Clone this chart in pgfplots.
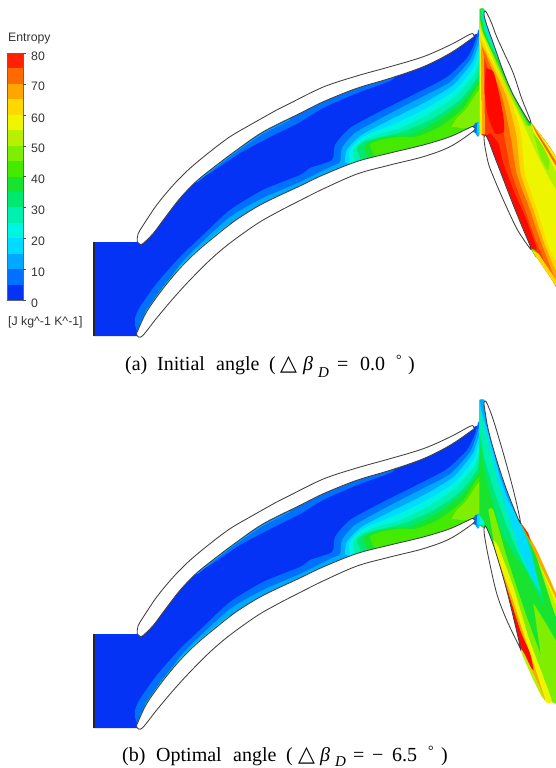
\documentclass[border=0pt]{standalone}
\usepackage{pgfplots}
\usepackage{pgfplotstable}
\usepackage{fontspec}
\pgfplotsset{compat=1.18}
\setmainfont{Liberation Serif}
\newfontfamily\arialf{Liberation Sans}
\newfontfamily\symf{DejaVu Sans}
\definecolor{cA}{HTML}{FF2200}\definecolor{cB}{HTML}{FF6A00}\definecolor{cC}{HTML}{FFA500}\definecolor{cD}{HTML}{FFD800}
\definecolor{cE}{HTML}{EEF500}\definecolor{cF}{HTML}{B8F000}\definecolor{cG}{HTML}{80EE00}\definecolor{cH}{HTML}{44EA00}
\definecolor{cI}{HTML}{18E430}\definecolor{cJ}{HTML}{00E870}\definecolor{cK}{HTML}{00F0B0}\definecolor{cL}{HTML}{00F5E0}
\definecolor{cM}{HTML}{00DCFF}\definecolor{cN}{HTML}{00A8FF}\definecolor{cO}{HTML}{0070FF}\definecolor{cP}{HTML}{0433F5}
\definecolor{cR}{HTML}{FF3A00}\definecolor{cS}{HTML}{FF0800}
% px tables: nozzle
\pgfplotstableread[row sep=\\]{x y\\94 242\\141 242\\148 233\\165 212\\182 191\\200 175\\220 158\\238 143\\263 124\\290 110\\323 94\\357 82\\390 72\\423 62\\450 49\\471 36\\479 33\\479 133\\472 129\\450 142\\423 151\\390 159\\357 167\\323 182\\300 194\\270 210\\245 225\\220 243\\200 260\\183 278\\167 297\\150 320\\137 334\\141 336\\94 336\\}\tPass
\pgfplotstableread[row sep=\\]{x y\\135 325\\135 318\\140 307\\157 283\\180 257\\203 235\\230 210\\263 190\\300 175\\310 168\\332 160\\335 145\\350 128\\383 110\\417 93\\447 77\\467 58\\475 42\\477 35\\479 34\\479 133\\472 129\\450 142\\423 151\\390 159\\357 167\\323 182\\300 194\\270 210\\245 225\\220 243\\200 260\\183 278\\167 297\\150 320\\138 335\\}\tNo
\pgfplotstableread[row sep=\\]{x y\\140 323\\157 297\\180 265\\197 247\\230 217\\263 198\\300 182\\330 167\\340 162\\342 148\\355 133\\387 115\\420 98\\450 82\\470 60\\476 45\\479 40\\479 133\\472 129\\450 142\\423 151\\390 159\\357 167\\323 182\\300 194\\270 210\\245 225\\220 243\\200 260\\183 278\\167 297\\150 320\\}\tNn
\pgfplotstableread[row sep=\\]{x y\\200 178\\210 173\\240 153\\270 137\\300 122\\323 108\\357 93\\392 80\\392 74\\357 82\\300 108\\240 145\\200 175\\}\tUs
\pgfplotstableread[row sep=\\]{x y\\165 412\\170 375\\215 330\\300 285\\400 235\\490 180\\548 110\\570 65\\570 320\\548 315\\480 350\\400 378\\300 403\\200 425\\}\tWa
\pgfplotstableread[row sep=\\]{x y\\180 415\\178 380\\200 350\\240 325\\310 298\\410 250\\495 195\\550 130\\570 82\\570 320\\548 315\\480 350\\400 378\\300 403\\200 425\\}\tWb
\pgfplotstableread[row sep=\\]{x y\\195 412\\190 375\\215 350\\260 330\\330 310\\420 265\\500 210\\555 145\\570 105\\570 320\\548 315\\480 350\\400 378\\300 403\\220 420\\}\tWc
\pgfplotstableread[row sep=\\]{x y\\215 405\\200 370\\225 350\\280 335\\340 320\\430 280\\510 225\\560 160\\570 125\\570 320\\548 315\\480 350\\400 378\\300 403\\}\tWd
\pgfplotstableread[row sep=\\]{x y\\235 400\\220 365\\250 345\\300 335\\360 330\\440 290\\515 235\\565 170\\570 150\\570 320\\548 315\\480 350\\400 378\\300 403\\}\tWe
\pgfplotstableread[row sep=\\]{x y\\255 395\\240 360\\270 345\\330 335\\380 335\\450 305\\520 250\\570 180\\570 320\\548 315\\480 350\\400 378\\310 400\\}\tWf
\pgfplotstableread[row sep=\\]{x y\\485 305\\500 280\\530 250\\570 195\\570 300\\550 305\\520 310\\}\tWg
\pgfplotstableread[row sep=\\]{x y\\575 395\\598 402\\598 365\\585 370\\}\tWh
\pgfplotstableread[row sep=\\]{x y\\590 397\\598 402\\598 365\\592 368\\}\tWi
\pgfplotstableread[row sep=\\]{x y\\143 320\\146.7 311\\163.3 287.5\\180 267.5\\196.7 251\\216.7 234.5\\230 224\\}\tSa
\pgfplotstableread[row sep=\\]{x y\\143 320\\146.7 311\\163.3 287.5\\180 267.5\\}\tSb
\pgfplotstableread[row sep=\\]{x y\\196.7 182\\216.7 166\\236.7 151\\263.3 133\\290 119.5\\}\tSc
\pgfplotstableread[row sep=\\]{x y\\94 242\\94 336\\}\tSd
% blades px
\pgfplotstableread[row sep=\\]{x y\\137.3 240\\138 234\\143.3 225\\156.7 205\\173.3 185\\190 168.3\\210 151.7\\230 136.7\\250 125\\276.7 110\\290 103.3\\323.3 87\\356.7 76\\390 66.7\\423.3 56.7\\450 45\\470 34.3\\473.5 34.5\\474 36\\471.7 38.5\\450 53.3\\423.3 66.7\\390 78.3\\356.7 88.3\\323.3 101.7\\300 113.3\\263.3 131.7\\236.7 150\\216.7 165\\196.7 181\\180 198.3\\163.3 220\\153.3 233.3\\143.3 243.3\\140 244.3\\137.3 241.7\\137.3 240\\}\tBu
\pgfplotstableread[row sep=\\]{x y\\137.3 331.7\\146.7 311.7\\163.3 288.3\\180 268.3\\196.7 251.7\\216.7 235\\236.7 219.5\\263.3 203.3\\300 186\\323 175\\357 161.5\\390 153\\423.3 145\\450 136.7\\471.7 126.7\\473.5 127\\473.5 131\\450 146.7\\423.3 156.7\\390 165\\357 174\\323 189\\300 200.5\\276.7 212.5\\256.7 224\\230 243\\210 260\\190 280\\173.3 298.3\\156.7 318\\143.3 335\\138.5 337\\136.5 334\\137.3 331.7\\}\tBl
% rotor a, zoom coordinates
\pgfplotstableread[row sep=\\]{x y\\598 28\\612 28\\630 100\\668 200\\708 290\\752 365\\828 485\\840 505\\840 880\\828 858\\752 745\\680 595\\650 525\\625 450\\612 410\\598 398\\}\tRa
\pgfplotstableread[row sep=\\]{x y\\598 150\\612 170\\650 290\\675 420\\695 520\\735 630\\775 740\\840 870\\840 505\\752 365\\708 290\\668 200\\630 100\\612 28\\598 28\\}\tAa
\pgfplotstableread[row sep=\\]{x y\\598 130\\618 165\\665 285\\692 410\\710 520\\750 630\\788 740\\840 850\\840 505\\752 365\\708 290\\668 200\\630 100\\612 28\\598 28\\}\tAb
\pgfplotstableread[row sep=\\]{x y\\598 115\\622 165\\678 285\\708 400\\722 520\\760 630\\797 740\\840 820\\840 505\\752 365\\708 290\\668 200\\630 100\\612 28\\598 28\\}\tAc
\pgfplotstableread[row sep=\\]{x y\\598 100\\628 165\\688 285\\722 395\\735 520\\772 630\\806 740\\840 785\\840 505\\752 365\\708 290\\668 200\\630 100\\612 28\\598 28\\}\tAd
\pgfplotstableread[row sep=\\]{x y\\598 80\\640 180\\688 285\\732 375\\765 450\\800 520\\840 585\\840 505\\752 365\\708 290\\668 200\\630 100\\612 28\\598 28\\}\tAe
\pgfplotstableread[row sep=\\]{x y\\600 70\\650 190\\692 285\\738 375\\752 365\\708 290\\668 200\\630 100\\612 28\\600 28\\}\tAf
\pgfplotstableread[row sep=\\]{x y\\600 55\\610 100\\655 195\\697 285\\745 375\\752 365\\708 290\\668 200\\630 100\\612 28\\600 28\\}\tAg
\pgfplotstableread[row sep=\\]{x y\\604 40\\617 100\\662 195\\702 285\\750 365\\708 290\\668 200\\630 100\\612 28\\604 28\\}\tAh
\pgfplotstableread[row sep=\\]{x y\\608 28\\622 100\\668 200\\706 285\\752 365\\708 290\\680 200\\640 100\\612 28\\}\tAi
\pgfplotstableread[row sep=\\]{x y\\760 400\\785 430\\808 480\\803 510\\780 470\\}\tAj
\pgfplotstableread[row sep=\\]{x y\\755 370\\828 490\\828 515\\790 440\\760 395\\}\tAk
\pgfplotstableread[row sep=\\]{x y\\752 365\\828 485\\828 498\\770 402\\}\tAl
\pgfplotstableread[row sep=\\]{x y\\618 205\\640 215\\658 285\\670 350\\672 395\\645 400\\622 340\\612 260\\}\tAm
\pgfplotstableread[row sep=\\]{x y\\612 410\\650 490\\680 560\\720 660\\755 745\\770 745\\735 650\\700 570\\670 490\\655 430\\630 400\\}\tAn
\pgfplotstableread[row sep=\\]{x y\\598 105\\604 140\\606 402\\598 402\\}\tAo
\pgfplotstableread[row sep=\\]{x y\\604 140\\612 170\\615 402\\606 402\\}\tAp
\pgfplotstableread[row sep=\\]{x y\\752 745\\765 750\\775 775\\765 770\\}\tAq
\pgfplotstableread[row sep=\\]{x y\\755 750\\828 858\\828 840\\775 760\\}\tAr
% rotor a blades
\pgfplotstableread[row sep=\\]{x y\\612 38\\616 33\\622 42\\635 70\\650 110\\675 165\\700 220\\725 295\\750 358\\751 366\\745 362\\700 285\\670 215\\640 130\\622 80\\613 50\\612 38\\}\tBc
\pgfplotstableread[row sep=\\]{x y\\612 412\\616 405\\625 420\\640 460\\665 525\\690 590\\720 665\\752 742\\746 740\\710 685\\670 600\\640 530\\625 490\\614 435\\612 412\\}\tBd
% rotor b
\pgfplotstableread[row sep=\\]{x y\\598 30\\612 30\\630 100\\670 240\\718 390\\828 612\\840 625\\840 935\\795 930\\720 770\\680 640\\640 500\\618 420\\598 405\\}\tRb
\pgfplotstableread[row sep=\\]{x y\\625 360\\640 360\\680 500\\740 680\\800 850\\760 860\\720 750\\660 560\\}\tGa
\pgfplotstableread[row sep=\\]{x y\\760 640\\840 780\\840 935\\810 930\\790 850\\}\tGb
\pgfplotstableread[row sep=\\]{x y\\640 450\\655 470\\700 590\\745 740\\790 860\\815 932\\795 932\\720 770\\680 640\\}\tGc
\pgfplotstableread[row sep=\\]{x y\\640 470\\695 620\\730 730\\770 850\\795 932\\720 770\\680 640\\}\tGd
\pgfplotstableread[row sep=\\]{x y\\640 470\\690 625\\722 725\\750 790\\760 840\\745 820\\720 770\\680 640\\640 500\\}\tGe
\pgfplotstableread[row sep=\\]{x y\\720 770\\735 795\\765 860\\785 905\\795 930\\785 920\\760 870\\725 790\\}\tGf
\pgfplotstableread[row sep=\\]{x y\\598 30\\612 30\\632 100\\660 200\\688 300\\718 390\\750 460\\775 570\\790 640\\735 540\\670 440\\630 310\\605 200\\598 130\\}\tGg
\pgfplotstableread[row sep=\\]{x y\\598 30\\612 30\\632 100\\660 200\\688 300\\718 390\\740 450\\765 540\\782 610\\725 510\\685 420\\645 310\\612 200\\598 110\\}\tGh
\pgfplotstableread[row sep=\\]{x y\\600 60\\625 160\\655 280\\690 390\\720 480\\750 550\\772 590\\775 590\\750 480\\718 392\\688 300\\660 200\\632 100\\612 30\\600 30\\}\tGi
\pgfplotstableread[row sep=\\]{x y\\600 30\\604 60\\625 130\\660 260\\685 330\\718 390\\688 300\\660 200\\632 100\\612 30\\}\tGj
\pgfplotstableread[row sep=\\]{x y\\720 395\\765 470\\828 612\\828 680\\790 565\\760 470\\}\tGk
\pgfplotstableread[row sep=\\]{x y\\725 400\\828 612\\828 645\\775 510\\}\tGl
\pgfplotstableread[row sep=\\]{x y\\722 397\\770 480\\828 612\\828 625\\760 480\\}\tGm
\pgfplotstableread[row sep=\\]{x y\\718 392\\745 430\\752 455\\}\tGn
\pgfplotstableread[row sep=\\]{x y\\598 375\\612 395\\612 405\\598 405\\}\tGo
\pgfplotstableread[row sep=\\]{x y\\612 38\\616 33\\622 42\\640 90\\670 190\\700 300\\720 388\\716 390\\680 300\\650 210\\625 120\\613 50\\612 38\\}\tBe
\pgfplotstableread[row sep=\\]{x y\\612 418\\616 408\\625 425\\645 480\\680 600\\720 767\\716 765\\680 690\\650 610\\625 500\\614 440\\612 418\\}\tBf
% layer macros
\newcommand\pl[3]{\addplot[fill=#1,draw=none] table[x=x,y expr=\thisrow{y}+#3]{#2};}
\newcommand\pls[3]{\addplot[fill=#1,draw=none,smooth,tension=.4] table[x=x,y expr=\thisrow{y}+#3]{#2};}
\newcommand\lnp[4]{\addplot[#1,line width=#2] table[x=x,y expr=\thisrow{y}+#4]{#3};}
\newcommand\zl[3]{\addplot[fill=#1,draw=none,smooth,tension=.35] table[x expr=\thisrow{x}/3+280,y expr=\thisrow{y}/3+#3]{#2};}
\newcommand\zs[3]{\addplot[fill=#1,draw=none] table[x expr=\thisrow{x}/3+280,y expr=\thisrow{y}/3+#3]{#2};}
\newcommand\bw[3]{\addplot[fill=#1,draw=none,smooth,tension=.4] table[x expr=\thisrow{x}/3+290,y expr=\thisrow{y}/3+25+#3]{#2};}
\newcommand\bladep[2]{\addplot[fill=white,draw=black!75,line width=.85pt,smooth,tension=.55] table[x=x,y expr=\thisrow{y}+#2]{#1};}
\newcommand\bladez[2]{\addplot[fill=white,draw=black!75,line width=.85pt,smooth,tension=.55] table[x expr=\thisrow{x}/3+280,y expr=\thisrow{y}/3+#2]{#1};}
\newcommand\nozzle[1]{%
 \pl{cP}{\tPass}{#1}
 \pls{cO}{\tNo}{#1}
 \pls{cN}{\tNn}{#1}
 \pls{cO}{\tUs}{#1}
 \bw{cM}{\tWa}{#1}\bw{cL}{\tWb}{#1}\bw{cK}{\tWc}{#1}\bw{cJ}{\tWd}{#1}\bw{cI}{\tWe}{#1}\bw{cH}{\tWf}{#1}\bw{cG}{\tWg}{#1}
 \zs{cO}{\tWh}{#1}\zs{cM}{\tWi}{#1}
 \lnp{cM}{1.2pt}{\tSa}{#1}
 \lnp{cI}{.8pt}{\tSb}{#1}
 \lnp{cN}{.9pt}{\tSc}{#1}
}
\newcommand\nozzleblades[1]{\bladep{\tBu}{#1}\bladep{\tBl}{#1}
 \lnp{black!85}{1.3pt}{\tSd}{#1}}
\newcommand\band[3]{\addplot[fill=#1,draw=none] coordinates {(7,#2) (23,#2) (23,#3) (7,#3)};}
\newcommand\capt[3]{\node[anchor=base west,inner sep=0pt,font=\fontsize{20}{20}\selectfont] at (axis cs:#1,#2) {#3};}
\newcommand\cbt[3]{\node[anchor=base west,text=black!80,inner sep=0pt,font=\arialf\fontsize{12.3}{12.3}\selectfont] at (axis cs:#1,#2) {#3};}
\begin{document}
\begin{tikzpicture}
\path[use as bounding box] (0,0) rectangle (556pt,768pt);
\begin{axis}[at={(0,0)},anchor=south west,scale only axis,width=556pt,height=768pt,xmin=0,xmax=556,ymin=0,ymax=768,y dir=reverse,axis lines=none,ticks=none]
% colour bar
\band{cA}{53}{68.4}\band{cB}{68.4}{83.9}\band{cC}{83.9}{99.3}\band{cD}{99.3}{114.8}
\band{cE}{114.8}{130.2}\band{cF}{130.2}{145.6}\band{cG}{145.6}{161.1}\band{cH}{161.1}{176.5}
\band{cI}{176.5}{192}\band{cJ}{192}{207.4}\band{cK}{207.4}{222.8}\band{cL}{222.8}{238.3}
\band{cM}{238.3}{253.7}\band{cN}{253.7}{269.2}\band{cO}{269.2}{284.6}\band{cP}{284.6}{300}
\addplot[black!60,line width=.4pt] coordinates {(7,53) (23,53) (23,300) (7,300) (7,53)};
\addplot[black!70,line width=.5pt] coordinates {(23,53) (26,53)};\addplot[black!70,line width=.5pt] coordinates {(23,84) (26,84)};
\addplot[black!70,line width=.5pt] coordinates {(23,115) (26,115)};\addplot[black!70,line width=.5pt] coordinates {(23,146) (26,146)};
\addplot[black!70,line width=.5pt] coordinates {(23,176.5) (26,176.5)};\addplot[black!70,line width=.5pt] coordinates {(23,207.4) (26,207.4)};
\addplot[black!70,line width=.5pt] coordinates {(23,238.3) (26,238.3)};\addplot[black!70,line width=.5pt] coordinates {(23,269.2) (26,269.2)};
\addplot[black!70,line width=.5pt] coordinates {(23,300) (26,300)};
% panel a
\nozzle{0}
\zs{cR}{\tRa}{0}
\zl{cB}{\tAa}{0}\zl{cC}{\tAb}{0}\zl{cD}{\tAc}{0}\zl{cE}{\tAd}{0}\zl{cF}{\tAe}{0}
\zl{cG}{\tAf}{0}\zl{cI}{\tAg}{0}\zl{cK}{\tAh}{0}\zl{cM}{\tAi}{0}
\zl{cG}{\tAj}{0}\zs{cE}{\tAk}{0}\zs{cB}{\tAl}{0}
\zl{cS}{\tAm}{0}\zl{cS}{\tAn}{0}
\zs{cE}{\tAo}{0}\zs{cC}{\tAp}{0}\zs{cH}{\tAq}{0}\zs{cD}{\tAr}{0}
\nozzleblades{0}
\bladez{\tBc}{0}\bladez{\tBd}{0}
% panel b
\nozzle{392}
\zs{cI}{\tRb}{390}
\zl{cG}{\tGa}{390}\zl{cG}{\tGb}{390}\zl{cE}{\tGc}{390}\zl{cC}{\tGd}{390}\zl{cS}{\tGe}{390}\zs{cF}{\tGf}{390}
\zl{cJ}{\tGg}{390}\zl{cK}{\tGh}{390}\zl{cM}{\tGi}{390}\zl{cN}{\tGj}{390}
\zl{cF}{\tGk}{390}\zs{cE}{\tGl}{390}\zs{cC}{\tGm}{390}\zs{cA}{\tGn}{390}\zs{cL}{\tGo}{390}
\nozzleblades{392}
\bladez{\tBe}{390}\bladez{\tBf}{390}
% colour-bar text
\cbt{8}{42}{Entropy}
\cbt{31}{60}{80}\cbt{31}{90.5}{70}\cbt{31}{122}{60}\cbt{31}{152.5}{50}\cbt{31}{183}{40}
\cbt{31}{214}{30}\cbt{31}{245}{20}\cbt{31}{276}{10}\cbt{31}{307}{0}
\cbt{8}{325}{[J kg\^{}-1 K\^{}-1]}
% captions
\capt{125}{370}{(a)}\capt{157}{370}{Initial}\capt{216}{370}{angle}\capt{269}{370}{(}
\capt{280}{370}{\symf\fontsize{22}{22}\selectfont △}\capt{303}{370}{\itshape β}
\node[anchor=base west,inner sep=0pt,font=\fontsize{15}{15}\selectfont\itshape] at (axis cs:318,377) {D};
\capt{337}{370}{=}\capt{360}{370}{0.0}
\node[anchor=base west,inner sep=0pt,font=\fontsize{14}{14}\selectfont] at (axis cs:396,364) {°};
\capt{408}{370}{)}
\capt{122}{761}{(b)}\capt{156}{761}{Optimal}\capt{233}{761}{angle}\capt{286}{761}{(}
\capt{298}{761}{\symf\fontsize{22}{22}\selectfont △}\capt{320}{761}{\itshape β}
\node[anchor=base west,inner sep=0pt,font=\fontsize{15}{15}\selectfont\itshape] at (axis cs:335,766) {D};
\capt{353}{761}{=}\capt{372}{761}{−}\capt{392}{761}{6.5}
\node[anchor=base west,inner sep=0pt,font=\fontsize{14}{14}\selectfont] at (axis cs:428,755) {°};
\capt{441}{761}{)}
\end{axis}
\end{tikzpicture}
\end{document}
